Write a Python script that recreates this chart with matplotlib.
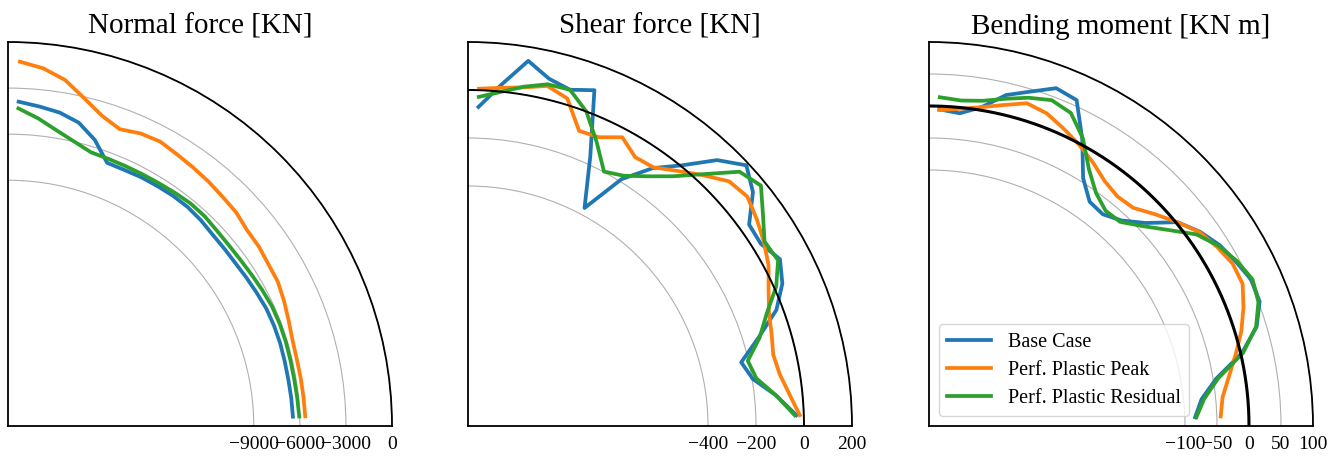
import numpy as np
import matplotlib
matplotlib.use("Agg")
import matplotlib.pyplot as plt

plt.rcParams["font.family"] = ["Liberation Serif", "DejaVu Serif"]

# element mid-angles along the quarter lining [deg]
THETA_DEG = [1.875, 5.625, 9.375, 13.125, 16.875, 20.625, 24.375, 28.125,
             31.875, 35.625, 39.375, 43.125, 46.875, 50.625, 54.375, 58.125,
             61.875, 65.625, 69.375, 73.125, 76.875, 80.625, 84.375, 88.125]

LABELS = ["Base Case", "Perf. Plastic Peak", "Perf. Plastic Residual"]
COLORS = ["tab:blue", "tab:orange", "tab:green"]

# normal force [KN]
normal_base = [-6440, -6470, -6500, -6500, -6480, -6490, -6525, -6630,
               -6720, -6790, -6790, -6760, -6640, -6560, -6560, -6600,
               -6630, -6690, -6690, -5535, -4720, -4320, -4100, -3875]
normal_peak = [-5640, -5670, -5690, -5700, -5650, -5480, -5270, -5080,
               -5040, -4920, -4880, -4650, -4560, -4420, -4300, -4170,
               -4000, -4090, -4350, -3900, -3100, -2170, -1600, -1270]
normal_resid = [-6030, -6080, -6120, -6120, -6100, -6100, -6130, -6230,
                -6330, -6400, -6420, -6380, -6280, -6260, -6330, -6390,
                -6420, -6430, -6420, -6380, -5990, -5500, -4880, -4310]

# shear force [KN]
shear_base = [-31, -109, -197, -231, -136, -27, 38, 74, 37, 41, 136, 189,
              118, 5, -78, -189, -370, -165, 95, 64, 86, 142, 30, -70]
shear_peak = [-17, -54, -83, -94, -78, -60, -25, 20, 52, 80, 106, 91,
              32, -25, -74, -81, -36, -79, -86, 26, 55, 30, 16, 6]
shear_resid = [-38, -109, -182, -203, -130, -70, 10, 65, 55, 112, 179, 150,
               38, -54, -120, -172, -198, -101, 0, 64, 62, 33, -1, -28]

# bending moment [KN m]
moment_base = [-84, -72, -45, 2, 35, 52, 53, 44, 35, 21, 2, -36,
               -60, -72, -69, -44, 8, 59, 64, 46, 31, 5, -9, -5]
moment_peak = [-44, -39, -25, -8, 10, 25, 38, 38, 30, 20, 2, -16,
               -33, -36, -29, -15, -2, 10, 22, 27, 15, 5, -2, -6]
moment_resid = [-82, -68, -42, 4, 34, 50, 55, 46, 33, 14, -17, -43,
                -63, -65, -52, -27, 10, 37, 44, 36, 25, 15, 11, 14]

PANELS = [
    ("Normal force [KN]", (normal_base, normal_peak, normal_resid),
     (-25000, 0), [-9000, -6000, -3000, 0], None),
    ("Shear force [KN]", (shear_base, shear_peak, shear_resid),
     (-1400, 200), [-400, -200, 0, 200], 1.4),
    ("Bending moment [KN m]", (moment_base, moment_peak, moment_resid),
     (-500, 100), [-100, -50, 0, 50, 100], 2.2),
]

W, H = 1341, 457
fig = plt.figure(figsize=(W / 100, H / 100), dpi=100)
theta = np.deg2rad(THETA_DEG)
arc = np.linspace(0, np.pi / 2, 300)

for i, (title, series, rlim, rticks, zero_lw) in enumerate(PANELS):
    left = [8, 468, 929][i]
    ax = fig.add_axes([left / W, 31 / H, 384 / W, 384 / H], projection="polar")
    ax.set_thetamin(0)
    ax.set_thetamax(90)
    for vals, lab, col in zip(series, LABELS, COLORS):
        ax.plot(theta, vals, color=col, lw=2.7, label=lab)
    if zero_lw:
        ax.plot(arc, np.zeros_like(arc), color="k", lw=zero_lw)
    ax.set_rlim(*rlim)
    ax.set_rticks(rticks)
    ax.set_xticks([])
    for sp in ax.spines.values():
        sp.set_linewidth(1.3)
    ax.tick_params(axis="y", labelsize=14)
    ax.set_title(title, fontsize=21, pad=6)
    if i == 2:
        ax.legend(loc="lower left", fontsize=14.5, handlelength=2.2,
                  borderaxespad=0.5, labelspacing=0.45)

fig.savefig("out.png", dpi=100)
